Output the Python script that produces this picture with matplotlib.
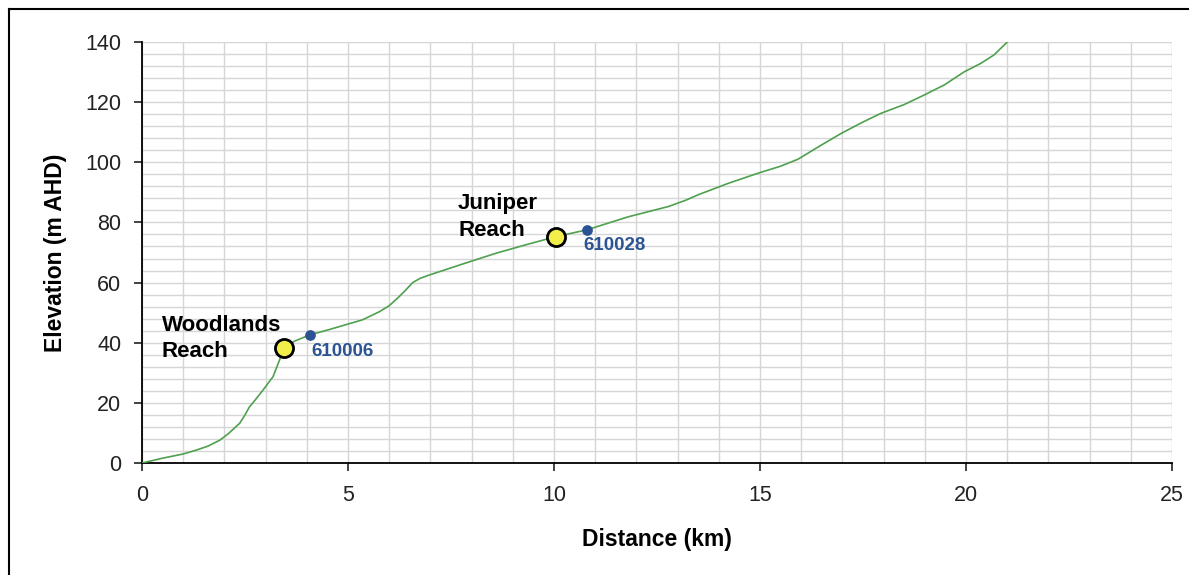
import matplotlib
matplotlib.use("Agg")
import matplotlib.pyplot as plt
from matplotlib.lines import Line2D
from matplotlib.ticker import MultipleLocator

# Profile data (km, m AHD)
distance = [0.0, 0.5, 1.0, 1.32, 1.6, 1.89, 2.1, 2.37, 2.5, 2.61, 2.75, 2.94, 3.18, 3.34,
            3.44, 3.7, 4.07, 4.55, 5.0, 5.35, 5.76, 6.0, 6.24, 6.4, 6.57, 6.75, 6.97, 7.7,
            8.58, 9.3, 10.05, 10.79, 11.81, 12.78, 13.2, 13.5, 14.23, 14.96, 15.5, 15.92,
            16.4, 16.97, 17.5, 17.94, 18.5, 18.99, 19.47, 19.96, 20.36, 20.68, 21.01, 21.1]
elevation = [0.0, 1.6, 3.0, 4.3, 5.6, 7.6, 9.8, 13.2, 16.0, 18.7, 21.0, 24.3, 28.7, 34.3,
             38.2, 40.5, 42.6, 44.4, 46.2, 47.6, 50.3, 52.3, 55.3, 57.5, 60.0, 61.4, 62.5, 65.8,
             69.7, 72.5, 75.3, 77.5, 81.9, 85.3, 87.4, 89.2, 93.0, 96.4, 98.7, 101.0,
             105.0, 109.6, 113.4, 116.3, 119.2, 122.4, 125.7, 130.1, 132.9, 135.7, 140.1, 141.0]

reach_x = [3.44, 10.05]
reach_y = [38.1, 75.3]
reach_labels = ["Woodlands\nReach", "Juniper\nReach"]

gauge_x = [4.07, 10.79]
gauge_y = [42.6, 77.5]
gauge_labels = ["610006", "610028"]

plt.rcParams['font.family'] = ['Liberation Sans', 'DejaVu Sans']

fig = plt.figure(figsize=(11.89, 5.75), dpi=100)
ax = fig.add_axes([142/1189, 1-463/575, (1172-142)/1189, (463-42)/575])

ax.plot(distance, elevation, color='#4fa04f', lw=1.2, zorder=3, clip_on=True)
ax.scatter(reach_x, reach_y, s=170, facecolor='#f2ef4a', edgecolor='black', linewidth=2.0, zorder=5)
ax.scatter(gauge_x, gauge_y, s=45, color='#2c5494', zorder=5)

# labels
reach_text_pos = [(0.48, 41.4), (7.67, 81.8)]
for (tx, ty), lab in zip(reach_text_pos, reach_labels):
    ax.text(tx, ty, lab, fontsize=16, fontweight='bold', ha='left', va='center',
            linespacing=1.35, color='black', zorder=6)
gauge_text_pos = [(4.1, 37.0), (10.72, 72.2)]
for (tx, ty), lab in zip(gauge_text_pos, gauge_labels):
    ax.text(tx, ty, lab, fontsize=13.5, fontweight='bold', ha='left', va='center',
            color='#2c5494', family=['Liberation Sans Narrow', 'Liberation Sans', 'DejaVu Sans'], zorder=6)

ax.set_xlim(0, 25)
ax.set_ylim(0, 140)
ax.xaxis.set_major_locator(MultipleLocator(5))
ax.xaxis.set_minor_locator(MultipleLocator(1))
ax.yaxis.set_major_locator(MultipleLocator(20))
ax.yaxis.set_minor_locator(MultipleLocator(4))
ax.grid(True, which='both', color='#d6d6d6', lw=1.0, zorder=0)
ax.set_axisbelow(True)
ax.tick_params(which='minor', length=0)
ax.tick_params(which='major', length=6, width=1.2, direction='out', labelsize=15.5, colors='#222222')
ax.tick_params(axis='x', pad=10)
ax.tick_params(axis='y', pad=9)
for s in ['top', 'right']:
    ax.spines[s].set_visible(False)
for s in ['left', 'bottom']:
    ax.spines[s].set_linewidth(1.3)
    ax.spines[s].set_color('black')

ax.set_xlabel('Distance (km)', fontsize=16.5, fontweight='bold', labelpad=16)
ax.set_ylabel('Elevation (m AHD)', fontsize=16.5, fontweight='bold', labelpad=13)

# partial figure border (top and left)
fig.add_artist(Line2D([9/1189, 1.0], [1-9/575, 1-9/575], transform=fig.transFigure, color='black', lw=1.5))
fig.add_artist(Line2D([9/1189, 9/1189], [0, 1-9/575], transform=fig.transFigure, color='black', lw=1.5))

fig.savefig('out.png', dpi=100, facecolor='white')
